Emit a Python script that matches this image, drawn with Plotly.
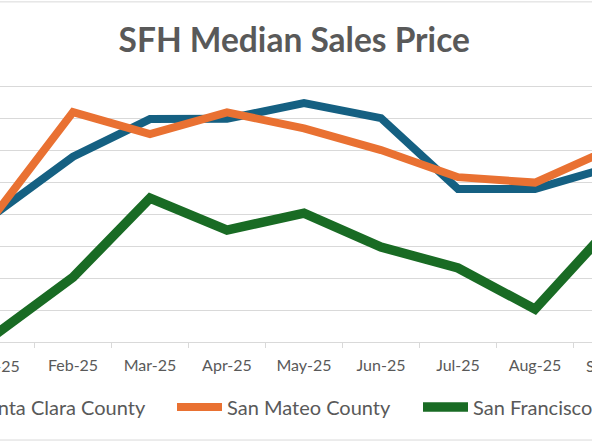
import plotly.graph_objects as go

months = ["Jan-25", "Feb-25", "Mar-25", "Apr-25", "May-25", "Jun-25", "Jul-25", "Aug-25", "Sep-25"]
santa_clara = [1904000, 2081000, 2199000, 2200000, 2249000, 2202000, 1980000, 1980000, 2050000]
san_mateo = [1904000, 2221000, 2152000, 2220000, 2170000, 2102000, 2017000, 2000000, 2108000]
san_francisco = [1525000, 1703000, 1951000, 1851000, 1904000, 1798000, 1732000, 1603000, 1867000]

series = [
    ("Santa Clara County", santa_clara, "#156082", 8, "legend"),
    ("San Mateo County", san_mateo, "#E97132", 8, "legend2"),
    ("San Francisco County", san_francisco, "#196B24", 9.5, "legend3"),
]

FONT = "Lato"
GRAY = "#595959"
GRID = "#D9D9D9"
W, H = 592, 444
AXIS_Y, TOP_Y = 342, 87
STEP = 77.0           # px per month
X0 = 0.052            # category index at the left edge

fig = go.Figure()
for name, vals, color, w, lg in series:
    fig.add_trace(go.Scatter(
        x=months, y=vals, name=name, mode="lines",
        line=dict(color=color, width=w), legend=lg,
    ))

plot_h = AXIS_Y - TOP_Y
ymin, ymax, ytop = 1500000, 2300000, 2306000
t_margin = AXIS_Y - plot_h * (ytop - ymin) / (ymax - ymin)
ph = AXIS_Y - t_margin
legend_y = -(407 - AXIS_Y) / ph
label_y = -(365 - AXIS_Y) / ph
x_range = [X0, X0 + W / STEP]

def leg(x, anchor):
    return dict(orientation="h", x=x, xanchor=anchor, y=legend_y, yanchor="middle",
                font=dict(family=FONT, size=20, color=GRAY), itemwidth=45,
                bgcolor="rgba(0,0,0,0)", borderwidth=0)

# tick labels of the months whose ticks fall just outside the visible range
edge_labels = []
for i, m in enumerate(months):
    if i < x_range[0] or i > x_range[1]:
        edge_labels.append(dict(
            text=m, xref="paper", yref="paper",
            x=(i - x_range[0]) / (x_range[1] - x_range[0]), y=label_y,
            xanchor="center", yanchor="middle", showarrow=False,
            font=dict(family=FONT, size=16, color=GRAY)))

fig.update_layout(
    width=W, height=H,
    margin=dict(l=0, r=0, t=t_margin, b=H - AXIS_Y, pad=0, autoexpand=False),
    paper_bgcolor="white", plot_bgcolor="white",
    title=dict(text="<b>SFH Median Sales Price</b>", x=0.497, xanchor="center",
               y=1 - 40 / H, yanchor="middle",
               font=dict(family=FONT, size=33.5, color=GRAY)),
    font=dict(family=FONT, color=GRAY),
    showlegend=True,
    legend=leg(151 / W, "right"),
    legend2=leg(172 / W, "left"),
    legend3=leg(418 / W, "left"),
    xaxis=dict(type="category", range=x_range,
               showgrid=False, showline=True, linecolor=GRID, linewidth=1,
               ticks="outside", tickson="boundaries", ticklen=5, tickcolor=GRID,
               tickfont=dict(family=FONT, size=16, color=GRAY), ticklabelstandoff=9,
               zeroline=False),
    yaxis=dict(range=[ymin, ytop], dtick=100000, tick0=ymin,
               showgrid=True, gridcolor=GRID, gridwidth=1,
               showticklabels=False, zeroline=False, showline=False, ticks=""),
    annotations=edge_labels,
    shapes=[
        dict(type="line", xref="paper", yref="paper", x0=-0.1, x1=1.1,
             y0=1 + (t_margin - 2) / ph, y1=1 + (t_margin - 2) / ph,
             line=dict(color=GRID, width=1)),
        dict(type="line", xref="paper", yref="paper", x0=-0.1, x1=1.1,
             y0=-(440 - AXIS_Y) / ph, y1=-(440 - AXIS_Y) / ph, line=dict(color=GRID, width=1)),
    ],
)

fig.write_html("out.html", config={"displayModeBar": False},
               post_script="document.body.style.margin='0';")
